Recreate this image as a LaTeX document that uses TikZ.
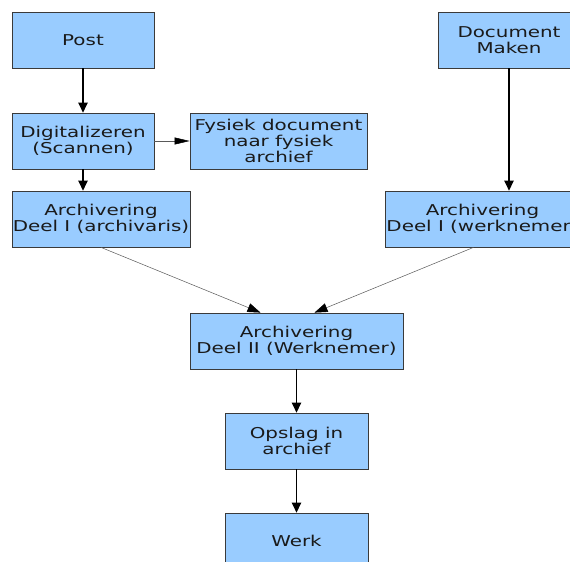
\documentclass[tikz,border=0pt]{standalone}
\usepackage{fontspec}
\setmainfont[FakeStretch=1.33]{DejaVu Sans}
\usetikzlibrary{arrows.meta}
\definecolor{boxfill}{HTML}{99CCFF}
\definecolor{boxline}{HTML}{3A3A3A}
\definecolor{ink}{HTML}{1A1A1A}
\tikzset{
  stepbox/.style={draw=boxline, line width=0.8bp, fill=boxfill, text=ink,
    align=center, inner sep=0pt, font=\fontsize{15}{15.8}\selectfont},
  flow/.style={draw=black, line width=1.1bp, -{Triangle[length=10bp,width=9.5bp]}},
  thinflow/.style={draw=black!65, line width=0.5bp, -{Triangle[length=13bp,width=9bp,color=black]}},
  sideflow/.style={draw=black!65, line width=0.5bp, -{Triangle[length=15bp,width=7bp,color=black]}}
}
\begin{document}
\begin{tikzpicture}[x=1bp, y=-1bp]
  \clip (0,0) rectangle (570,562);
  \fill[white] (0,0) rectangle (570,562);

  % process steps
  \node[stepbox, minimum width=142bp, minimum height=56bp] (post) at (83,40) {Post};
  \node[stepbox, minimum width=142bp, minimum height=56bp] (digi) at (83,141) {Digitalizeren\\(Scannen)};
  \node[stepbox, minimum width=177bp, minimum height=56bp] (fys) at (278.5,141) {Fysiek document\\naar fysiek\\archief};
  \node[stepbox, minimum width=178bp, minimum height=56bp] (arch1a) at (101,219) {Archivering\\Deel I (archivaris)};
  \node[stepbox, minimum width=142bp, minimum height=56bp] (doc) at (509,40) {Document\\Maken};
  \node[stepbox, minimum width=195bp, minimum height=56bp] (arch1w) at (482.5,219) {Archivering\\Deel I (werknemer)};
  \node[stepbox, minimum width=213bp, minimum height=56bp] (arch2) at (296.5,341) {Archivering\\Deel II (Werknemer)};
  \node[stepbox, minimum width=143bp, minimum height=56bp] (opslag) at (296.5,441) {Opslag in\\archief};
  \node[stepbox, minimum width=143bp, minimum height=56bp] (werk) at (296.5,541) {Werk};

  % connectors
  \draw[flow] (post) -- (digi);
  \draw[sideflow] (digi) -- (fys);
  \draw[flow] (digi.south) -- (digi.south |- arch1a.north);
  \draw[flow] (doc.south) -- (doc.south |- arch1w.north);
  \draw[thinflow] (arch1a.south) -- ([xshift=-36bp]arch2.north);
  \draw[thinflow] ([xshift=-9bp]arch1w.south) -- ([xshift=18bp]arch2.north);
  \draw[flow] (arch2) -- (opslag);
  \draw[flow] (opslag) -- (werk);
\end{tikzpicture}
\end{document}
